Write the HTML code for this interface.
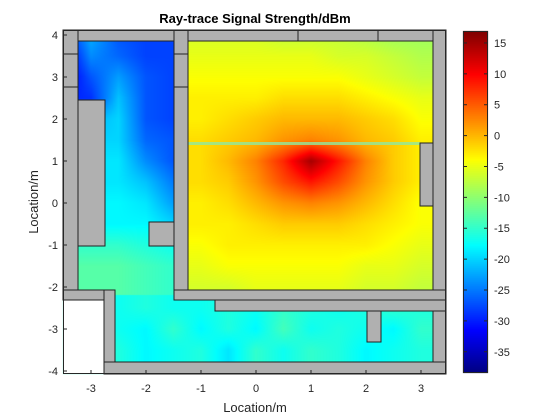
<!DOCTYPE html>
<html><head><meta charset="utf-8"><style>
html,body{margin:0;padding:0;background:#fff;}
#wrap{position:relative;width:560px;height:420px;font-family:"Liberation Sans",sans-serif;}
canvas,svg{position:absolute;left:0;top:0;}
</style></head><body>
<div id="wrap">
<canvas id="heat" width="560" height="420"></canvas>
<svg id="ov" width="560" height="420"></svg>
</div>
<script>
// grid x positions (m) and y positions (m)
const xCats = [-3.5,-3,-2.5,-2,-1.5,-1,-0.5,0,0.5,1,1.5,2,2.5,3,3.5];
const yCats = [4,3.5,3,2.5,2,1.5,1,0.5,0,-0.5,-1,-1.5,-2,-2.5,-3,-3.5,-4];
const dbm = [
[-30,-22,-27,-28,-28,-6,-6,-6,-7,-7,-7,-8,-9,-9,-9],
[-33,-24,-26,-28,-28,-5,-5,-5,-5,-5,-6,-6,-7,-8,-8],
[-33,-27,-23,-27,-28,-4,-4,-4,-4,-4,-4,-5,-6,-7,-7],
[-30,-29,-21,-27,-28,-3,-3,-3,-2,-2,-2,-3,-4,-5,-5],
[-20,-22,-20,-27,-28,-3,-2,-1,0,0,0,-1,-2,-4,-4],
[-20,-20,-20,-26,-27,-2,-1,0,2,3,2,0,-1,-3,-3],
[-19,-19,-19,-24,-27,-2,0,3,8,15,9,3,-1,-3,-3],
[-19,-19,-19,-21,-25,-2,-1,2,6,9,6,2,-1,-3,-3],
[-18,-18,-18,-19,-23,-3,-2,0,2,3,2,0,-2,-4,-4],
[-18,-18,-18,-18,-20,-3,-3,-2,-1,-1,-1,-2,-3,-4,-4],
[-15,-15,-15,-16,-17,-4,-3,-3,-3,-3,-3,-3,-4,-5,-5],
[-13,-13,-13,-14,-15,-5,-4,-4,-4,-4,-4,-5,-5,-6,-6],
[-13,-13,-13,-14,-15,-6,-6,-5,-5,-5,-5,-6,-6,-7,-7],
[-15,-15,-17,-16,-17,-17,-16,-17,-15,-16,-17,-16,-15,-16,-16],
[-15,-15,-17,-18,-15,-18,-16,-18,-14,-17,-16,-17,-18,-15,-15],
[-15,-15,-16,-18,-17,-16,-19,-15,-17,-15,-16,-18,-17,-16,-16],
[-15,-15,-16,-18,-17,-16,-19,-15,-17,-15,-16,-18,-17,-16,-16]
];
const xTicks = [-3,-2,-1,0,1,2,3];
const yTicks = [4,3,2,1,0,-1,-2,-3,-4];
const cTicks = [15,10,5,0,-5,-10,-15,-20,-25,-30,-35];
const cMin = -38.6, cMax = 17.1;

const PL=63,PT=30,PR=446,PB=374;
const sx = m => 256 + m*55;
const sy = m => 203 - m*42;
const ix = p => (p-256)/55;
const iy = p => (203-p)/42;
const cy = v => PB - (v-cMin)/(cMax-cMin)*(PB-PT);

function jet(t){
  t=Math.max(0,Math.min(1,t));
  const r=Math.max(0,Math.min(1,1.5-Math.abs(4*t-3)));
  const g=Math.max(0,Math.min(1,1.5-Math.abs(4*t-2)));
  const b=Math.max(0,Math.min(1,1.5-Math.abs(4*t-1)));
  return [r*255|0,g*255|0,b*255|0];
}
function sample(xm,ym,xlo,xhi,ylo,yhi){
  xm=Math.max(xlo,Math.min(xhi,xm)); ym=Math.max(ylo,Math.min(yhi,ym));
  const fx=(xm-xCats[0])/0.5, fy=(yCats[0]-ym)/0.5;
  const i0=Math.max(0,Math.min(xCats.length-2,Math.floor(fx))), j0=Math.max(0,Math.min(yCats.length-2,Math.floor(fy)));
  const tx=fx-i0, ty=fy-j0;
  const a=dbm[j0][i0],b=dbm[j0][i0+1],c=dbm[j0+1][i0],d=dbm[j0+1][i0+1];
  return (a*(1-tx)+b*tx)*(1-ty)+(c*(1-tx)+d*tx)*ty;
}
const cv=document.getElementById('heat'),ctx=cv.getContext('2d');
const img=ctx.createImageData(560,420);
for(let py=PT;py<PB;py++)for(let px=PL;px<PR;px++){
  const xm=ix(px+0.5),ym=iy(py+0.5);
  let v;
  if(py<295){ v = px<181 ? sample(xm,ym,-3.5,-1.5,-2,4) : sample(xm,ym,-1,3.5,-2,4); }
  else v = sample(xm,ym,-3.5,3.5,-4,-2.5);
  const col=jet((v-cMin)/(cMax-cMin));
  const k=(py*560+px)*4; img.data[k]=col[0];img.data[k+1]=col[1];img.data[k+2]=col[2];img.data[k+3]=255;
}
ctx.putImageData(img,0,0);
for(let py=31;py<373;py++){
  const v=cMin+(373-py)/(373-31)*(cMax-cMin);
  const c=jet((v-cMin)/(cMax-cMin));
  ctx.fillStyle='rgb('+c[0]+','+c[1]+','+c[2]+')'; ctx.fillRect(463,py,25,1);
}
const NS='http://www.w3.org/2000/svg', ov=document.getElementById('ov');
function el(t,a,txt){const e=document.createElementNS(NS,t);for(const k in a)e.setAttribute(k,a[k]);if(txt!==undefined)e.textContent=txt;ov.appendChild(e);return e;}
let fl=el('rect',{x:188,y:142,width:232,height:3,fill:'#8fe8a0',opacity:0.8});


const walls=[[63,30,15,270],[78,30,96,11],[78,100,27,146],[174,30,14,260],[149,222,25,24],[188,30,245,11],[433,30,13,332],[420,143,13,63],[174,290,272,10],[215,300,231,11],[63,290,42,10],[104,290,11,84],[104,362,342,12],[367,311,14,31]];
walls.forEach(w=>{
  const r=el('rect',{x:w[0],y:w[1],width:w[2],height:w[3],fill:'#b0b0b0',stroke:'#222','stroke-width':1});
  
  
});
let wb=el('rect',{x:63.5,y:300.5,width:40,height:73,fill:'#fff'});


[[63,54,78],[63,87,78],[174,54,188],[174,87,188]].forEach(l=>{
  const e=el('line',{x1:l[0],y1:l[1],x2:l[2],y2:l[1],stroke:'#222'});
  
  
});
[298,378].forEach(x=>{const e=el('line',{x1:x,y1:30,x2:x,y2:41,stroke:'#222'});
  
  });
let fr=el('rect',{x:PL+0.5,y:PT+0.5,width:PR-PL-1,height:PB-PT-1,fill:'none',stroke:'#262626'});


xTicks.forEach(t=>{
  const x=sx(t);
  const tl=el('line',{x1:x,y1:PB,x2:x,y2:PB-4,stroke:'#262626'});
  
  
  const tx=el('text',{x:x,y:392,'text-anchor':'middle','font-size':11,fill:'#262626'},String(t));
  
  
});
yTicks.forEach(t=>{
  const y=sy(t);
  const tl=el('line',{x1:PL,y1:y,x2:PL+4,y2:y,stroke:'#262626'});
  
  
  const tx=el('text',{x:58,y:y+4,'text-anchor':'end','font-size':11,fill:'#262626'},String(t));
  
  
});
let cb=el('rect',{x:463.5,y:31.5,width:24,height:341,fill:'none',stroke:'#262626'});


cTicks.forEach(t=>{
  const y=cy(t);
  const a=el('line',{x1:463,y1:y,x2:467,y2:y,stroke:'#262626'});
  
  
  const b=el('line',{x1:484,y1:y,x2:488,y2:y,stroke:'#262626'});
  
  
  const tx=el('text',{x:494,y:y+4,'font-size':11,fill:'#262626'},String(t));
  
  
});
let ti=el('text',{x:255,y:23,'text-anchor':'middle','font-size':13,'font-weight':'bold',fill:'#000'},'Ray-trace Signal Strength/dBm');


let xl=el('text',{x:255,y:412,'text-anchor':'middle','font-size':13,fill:'#262626'},'Location/m');


let yl=el('text',{x:0,y:0,'text-anchor':'middle','font-size':13,fill:'#262626',transform:'translate(38,202) rotate(-90)'},'Location/m');


</script>
</body></html>
